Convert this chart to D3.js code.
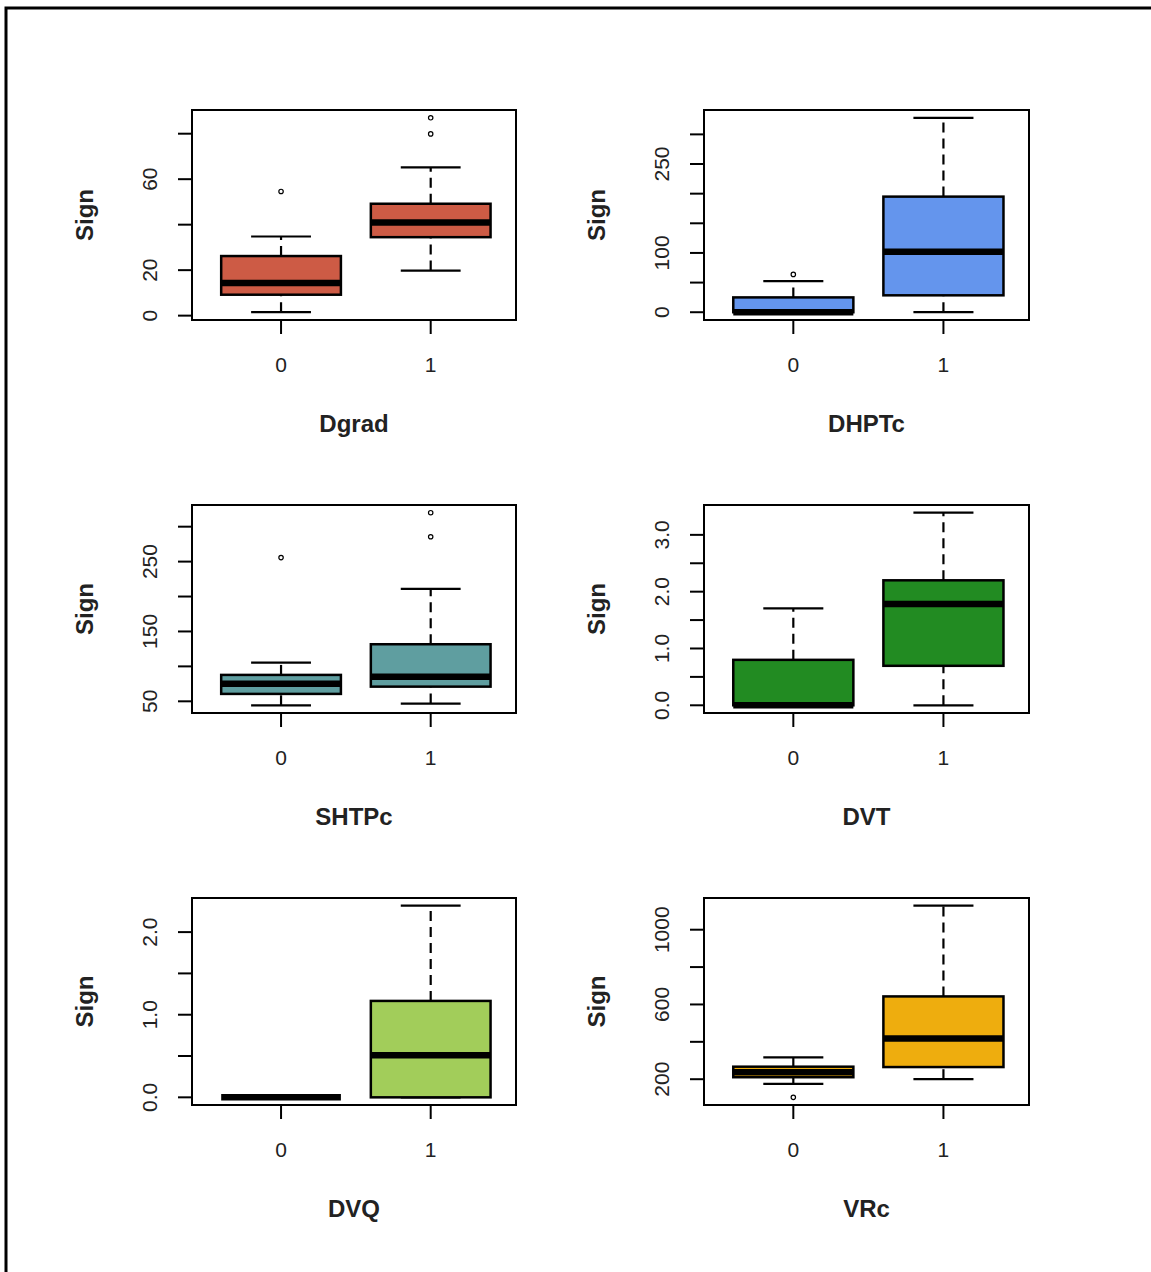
<!DOCTYPE html>
<html>
<head>
<meta charset="utf-8">
<script src="https://cdnjs.cloudflare.com/ajax/libs/d3/7.8.5/d3.min.js"></script>
<style>
  body { margin: 0; background: #fff; }
  text { font-family: "Liberation Sans", Arial, sans-serif; fill: #222; }
</style>
</head>
<body>
<svg width="1151" height="1272"></svg>
<script>
// box stats per group: [low whisker, Q1, median, Q3, high whisker]
const groups = ['0', '1'];
const titles = ['Dgrad', 'DHPTc', 'SHTPc', 'DVT', 'DVQ', 'VRc'];
const colors = ['#CD5B45', '#6495ED', '#5F9EA0', '#228B22', '#A2CD5A', '#EEAD0E'];

const dgradStats = [[1.5, 9.2, 14.3, 26.2, 34.8], [19.8, 34.5, 41, 49.2, 65.2]];
const dgradOut = [[54.6], [79.9, 87]];
const dhptcStats = [[0, 0, 0, 25, 52.4], [0, 28.5, 102, 195, 328]];
const dhptcOut = [[63.8], []];
const shtpcStats = [[44.3, 60.6, 75, 87.8, 105.5], [46.7, 71, 85, 131.7, 211]];
const shtpcOut = [[255.7], [285.6, 320]];
const dvtStats = [[0, 0, 0, 0.8, 1.705], [0, 0.695, 1.785, 2.2, 3.39]];
const dvtOut = [[], []];
const dvqStats = [[0, 0, 0, 0, 0], [0, 0, 0.51, 1.167, 2.32]];
const dvqOut = [[], []];
const vrcStats = [[175, 210.6, 237, 267, 317], [200, 265, 418, 643, 1128.6]];
const vrcOut = [[103], []];

const tickVals = [
    [0, 20, 40, 60, 80],
    [0, 50, 100, 150, 200, 250, 300],
    [50, 100, 150, 200, 250, 300],
    [0, 0.5, 1, 1.5, 2, 2.5, 3],
    [0, 0.5, 1, 1.5, 2],
    [200, 400, 600, 800, 1000]
];
const tickLabels = [
    [0, 20, 60],
    [0, 100, 250],
    [50, 150, 250],
    [0, 1, 2, 3],
    [0, 1, 2],
    [200, 600, 1000]
];
const tickFormats = ['d', 'd', 'd', '.1f', '.1f', 'd'];

const stats = [dgradStats, dhptcStats, shtpcStats, dvtStats, dvqStats, vrcStats];
const outs = [dgradOut, dhptcOut, shtpcOut, dvtOut, dvqOut, vrcOut];

const svg = d3.select('svg');

// outer frame (only top/left edges fall inside the picture)
svg.append('rect').attr('x', 6).attr('y', 8).attr('width', 1200).attr('height', 1300)
    .attr('fill', 'none').attr('stroke', '#000').attr('stroke-width', 3);

const cols = [[192, 516], [704, 1029]];
const rows = [[110, 320], [505, 713], [898, 1105]];

titles.forEach((title, i) => {
    const [x0, x1] = cols[i % 2];
    const [y0, y1] = rows[Math.floor(i / 2)];
    const st = stats[i], ou = outs[i];

    // y range like R: data extent + 4%
    const all = st.flat().concat(ou.flat());
    const lo = d3.min(all), hi = d3.max(all);
    const pad = (hi - lo) * 0.04;
    const y = d3.scaleLinear().domain([lo - pad, hi + pad]).range([y1, y0]);
    const x = d3.scaleLinear().domain([0.405, 2.57]).range([x0, x1]);

    const g = svg.append('g');

    // y axis ticks
    const fmt = d3.format(tickFormats[i]);
    g.selectAll('line.yt').data(tickVals[i]).join('line')
        .attr('x1', x0 - 14).attr('x2', x0)
        .attr('y1', d => y(d)).attr('y2', d => y(d))
        .attr('stroke', '#000').attr('stroke-width', 2);
    g.append('line')
        .attr('x1', x0).attr('x2', x0)
        .attr('y1', y(d3.min(tickVals[i]))).attr('y2', y(d3.max(tickVals[i])))
        .attr('stroke', '#000').attr('stroke-width', 2);
    g.selectAll('text.yl').data(tickLabels[i]).join('text')
        .attr('transform', d => `translate(${x0 - 42},${y(d)}) rotate(-90)`)
        .attr('text-anchor', 'middle').attr('dy', '0.35em')
        .style('font-size', '21px')
        .text(d => fmt(d));

    // x ticks
    g.selectAll('line.xt').data(groups).join('line')
        .attr('x1', (d, j) => x(j + 1)).attr('x2', (d, j) => x(j + 1))
        .attr('y1', y1).attr('y2', y1 + 14)
        .attr('stroke', '#000').attr('stroke-width', 2);
    g.selectAll('text.xl').data(groups).join('text')
        .attr('x', (d, j) => x(j + 1)).attr('y', y1 + 45)
        .attr('text-anchor', 'middle').attr('dy', '0.35em')
        .style('font-size', '21px')
        .text(d => d);

    // titles
    g.append('text').attr('x', (x0 + x1) / 2).attr('y', y1 + 104)
        .attr('text-anchor', 'middle').attr('dy', '0.35em')
        .style('font-size', '24px').style('font-weight', 'bold')
        .text(title);
    g.append('text')
        .attr('transform', `translate(${x0 - 107},${(y0 + y1) / 2}) rotate(-90)`)
        .attr('text-anchor', 'middle').attr('dy', '0.35em')
        .style('font-size', '24px').style('font-weight', 'bold')
        .text('Sign');

    // boxes
    st.forEach((s, j) => {
        const cx = x(j + 1);
        const bx0 = x(j + 1 - 0.4), bx1 = x(j + 1 + 0.4);
        const cx0 = x(j + 1 - 0.2), cx1 = x(j + 1 + 0.2);
        const b = g.append('g');
        // whiskers
        b.append('line').attr('x1', cx).attr('x2', cx).attr('y1', y(s[0])).attr('y2', y(s[1]))
            .attr('stroke', '#000').attr('stroke-width', 2.2).attr('stroke-dasharray', '10,6');
        b.append('line').attr('x1', cx).attr('x2', cx).attr('y1', y(s[3])).attr('y2', y(s[4]))
            .attr('stroke', '#000').attr('stroke-width', 2.2).attr('stroke-dasharray', '10,6');
        b.append('line').attr('x1', cx0).attr('x2', cx1).attr('y1', y(s[0])).attr('y2', y(s[0]))
            .attr('stroke', '#000').attr('stroke-width', 2.2);
        b.append('line').attr('x1', cx0).attr('x2', cx1).attr('y1', y(s[4])).attr('y2', y(s[4]))
            .attr('stroke', '#000').attr('stroke-width', 2.2);
        b.append('rect').attr('x', bx0).attr('width', bx1 - bx0)
            .attr('y', y(s[3])).attr('height', y(s[1]) - y(s[3]))
            .attr('fill', colors[i]).attr('stroke', '#000').attr('stroke-width', 2.5);
        b.append('line').attr('x1', bx0).attr('x2', bx1).attr('y1', y(s[2])).attr('y2', y(s[2]))
            .attr('stroke', '#000').attr('stroke-width', 6.5);
        b.selectAll('circle').data(ou[j]).join('circle')
            .attr('cx', cx).attr('cy', d => y(d)).attr('r', 2.2)
            .attr('fill', 'none').attr('stroke', '#000').attr('stroke-width', 1.2);
    });

    // plot frame
    g.append('rect').attr('x', x0).attr('y', y0).attr('width', x1 - x0).attr('height', y1 - y0)
        .attr('fill', 'none').attr('stroke', '#000').attr('stroke-width', 2);
});
</script>
</body>
</html>
